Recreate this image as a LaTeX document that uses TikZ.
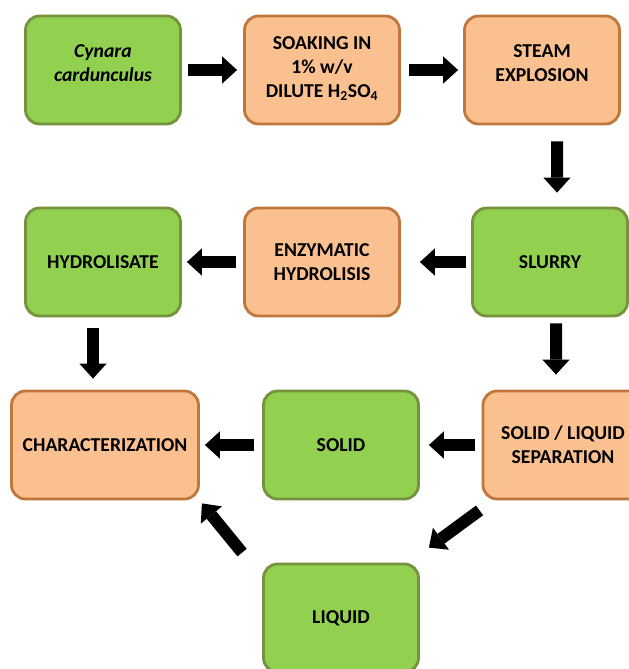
\documentclass[tikz,border=0pt]{standalone}
\usepackage{fontspec}
\setmainfont{Carlito}
\usetikzlibrary{arrows.meta}
\definecolor{boxgreen}{HTML}{92D050}
\definecolor{greenline}{HTML}{76923C}
\definecolor{boxorange}{HTML}{FAC090}
\definecolor{orangeline}{HTML}{C0773C}
\begin{document}
\begin{tikzpicture}[x=0.03cm, y=-0.03cm,
    box/.style={rounded corners=0.42cm, line width=2.4pt, minimum width=4.65cm,
        minimum height=3.24cm, align=center, inner sep=2pt,
        font=\fontsize{16.8}{20.5}\selectfont\bfseries},
    greenbox/.style={box, draw=greenline, fill=boxgreen},
    orangebox/.style={box, draw=orangeline, fill=boxorange},
    blk/.style={line width=0.36cm, -{Triangle[length=0.45cm, width=0.82cm, line width=0pt]}}]
    \clip (0,0) rectangle (629,669);

    % 第一行
    \node[greenbox] (cyn) at (103,70) {\itshape Cynara\\\itshape cardunculus\\[-9pt]};
    \node[orangebox] (soak) at (322,70) {SOAKING IN\\1\% w/v\\DILUTE H\textsubscript{2}SO\textsubscript{4}\\[-15pt]};
    \node[orangebox] (steam) at (542,70) {STEAM\\EXPLOSION\\[-9pt]};

    % 第二行
    \node[greenbox] (hydro) at (103,262) {HYDROLISATE};
    \node[orangebox] (enzy) at (322,262) {ENZYMATIC\\HYDROLISIS};
    \node[greenbox] (slurry) at (550,262) {SLURRY};

    % 第三行
    \node[orangebox, minimum width=5.61cm] (charac) at (105,445) {CHARACTERIZATION};
    \node[greenbox] (solid) at (341,445) {SOLID};
    \node[orangebox, minimum width=4.8cm] (sep) at (563,445) {SOLID / LIQUID\\SEPARATION};
    \node[greenbox] (liquid) at (341,618) {LIQUID};

    % 箭头
    \draw[blk, shorten <=0.18cm, shorten >=0.18cm] (cyn) -- (soak);
    \draw[blk, shorten <=0.24cm, shorten >=0.15cm] (soak) -- (steam);
    \draw[blk, shorten <=0.48cm, shorten >=0.42cm] ([xshift=0.45cm]steam.south) -- ([xshift=0.21cm]slurry.north);
    \draw[blk, shorten <=0.15cm, shorten >=0.57cm] (slurry) -- (enzy);
    \draw[blk, shorten <=0.21cm, shorten >=0.15cm] (enzy) -- (hydro);
    \draw[blk, shorten <=0.33cm, shorten >=0.33cm] ([xshift=-0.3cm]hydro.south) -- ([xshift=-0.36cm]charac.north);
    \draw[blk, shorten <=0.18cm, shorten >=0.45cm] ([xshift=0.18cm]slurry.south) -- ([xshift=-0.21cm]sep.north);
    \draw[blk, shorten <=0.21cm, shorten >=0.27cm] (sep) -- (solid);
    \draw[blk, shorten <=0.24cm, shorten >=0.15cm] (solid) -- (charac);
    \draw[blk] ([shift={(-2,10)}]sep.south west) -- ([shift={(9,-15)}]liquid.north east);
    \draw[blk] ([shift={(-20,-10)}]liquid.north west) -- ([shift={(2,3)}]charac.south east);
\end{tikzpicture}
\end{document}
